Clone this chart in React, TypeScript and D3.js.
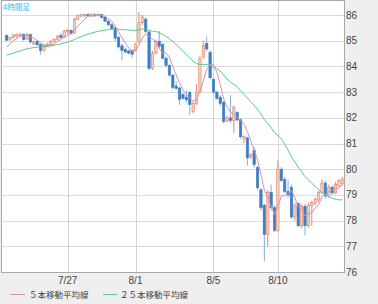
import React from 'react';
import * as d3 from 'd3';

// 4-hour candles (index order, left to right)
const opens = [
  85.20, 85.04, 85.12, 85.18, 85.20, 85.24, 85.06, 85.24, 84.88, 84.98,
  84.85, 84.62, 84.80, 84.86, 84.96, 85.06, 85.20, 85.12, 85.36, 85.40,
  85.30, 85.84, 85.98, 85.98, 86.02, 85.96, 86.00, 85.98, 86.02, 85.92,
  85.76, 85.62, 85.50, 85.12, 84.80, 84.66, 84.60, 84.62, 84.62, 84.96,
  85.70, 85.84, 85.34, 83.92, 84.52, 84.98, 84.86, 84.32, 84.04, 83.66,
  83.24, 83.16, 82.90, 82.80, 82.98, 82.24, 82.56, 83.00, 84.36, 84.90,
  84.55, 83.50, 83.00, 82.80, 82.60, 81.88, 82.00, 81.90, 82.20, 81.92,
  81.20, 81.22, 80.48, 80.72, 80.06, 79.20, 78.60, 77.46, 79.10, 78.50,
  77.62, 80.00, 79.60, 79.14, 79.30, 78.14, 78.66, 77.80, 78.56, 77.80,
  78.58, 78.68, 78.80, 79.10, 79.46, 78.96, 79.30, 79.08, 79.36, 79.44,
];
const highs = [
  85.25, 85.16, 85.26, 85.28, 85.30, 85.28, 85.30, 85.27, 85.00, 85.02,
  84.88, 84.86, 84.92, 85.02, 85.08, 85.22, 85.30, 85.42, 85.46, 85.44,
  85.90, 86.02, 86.06, 86.05, 86.06, 86.06, 86.08, 86.06, 86.04, 85.98,
  85.80, 85.68, 85.54, 85.20, 84.90, 84.74, 84.66, 84.66, 84.92, 86.12,
  86.00, 85.90, 85.40, 84.60, 85.04, 85.38, 84.92, 84.40, 84.10, 83.70,
  83.42, 83.20, 82.98, 83.06, 83.04, 82.62, 83.30, 84.40, 85.00, 85.16,
  84.62, 83.56, 83.06, 82.88, 82.66, 82.08, 82.88, 82.48, 82.26, 81.98,
  81.32, 81.26, 80.62, 80.86, 80.12, 79.26, 78.66, 79.20, 79.40, 78.60,
  80.34, 80.08, 79.70, 79.60, 79.40, 78.70, 78.72, 78.66, 78.64, 78.70,
  78.76, 78.90, 79.16, 79.60, 79.56, 79.40, 79.36, 79.50, 79.62, 79.70,
];
const lows = [
  84.98, 85.00, 85.08, 85.12, 85.14, 85.00, 85.02, 84.90, 84.82, 84.80,
  84.46, 84.58, 84.76, 84.82, 84.92, 85.02, 85.08, 85.10, 85.28, 85.24,
  85.26, 85.80, 85.92, 85.90, 85.92, 85.92, 85.94, 85.94, 85.86, 85.72,
  85.58, 85.42, 84.98, 84.70, 84.24, 84.50, 84.46, 84.34, 84.58, 84.90,
  85.62, 85.30, 83.86, 83.86, 84.48, 84.70, 84.28, 83.96, 83.60, 83.10,
  83.10, 82.50, 82.70, 82.58, 82.10, 82.16, 82.50, 82.96, 84.30, 84.60,
  83.50, 82.94, 82.70, 82.46, 81.78, 81.82, 81.80, 81.42, 81.86, 81.18,
  81.02, 80.14, 80.40, 80.06, 79.20, 78.40, 76.42, 77.00, 78.40, 77.56,
  77.56, 79.50, 79.06, 78.90, 78.06, 78.00, 77.74, 77.70, 77.42, 77.72,
  77.80, 78.60, 78.72, 79.04, 78.86, 78.90, 79.00, 79.04, 79.30, 79.38,
];
const closes = [
  85.02, 85.12, 85.22, 85.24, 85.25, 85.05, 85.26, 84.95, 84.96, 84.84,
  84.62, 84.82, 84.86, 84.98, 85.06, 85.18, 85.12, 85.38, 85.40, 85.28,
  85.84, 85.98, 86.00, 86.02, 85.96, 86.02, 85.98, 86.03, 85.90, 85.76,
  85.62, 85.48, 85.10, 84.76, 84.62, 84.56, 84.52, 84.48, 84.88, 85.70,
  85.92, 85.36, 83.92, 84.52, 84.98, 84.78, 84.32, 84.04, 83.66, 83.18,
  83.14, 82.72, 82.76, 82.70, 82.52, 82.56, 83.00, 84.30, 84.82, 84.68,
  83.56, 83.00, 82.76, 82.56, 81.86, 82.00, 81.90, 82.40, 81.92, 81.26,
  81.28, 80.44, 80.58, 80.18, 79.28, 78.50, 77.46, 79.10, 78.50, 77.62,
  80.00, 79.56, 79.14, 79.00, 78.14, 78.60, 77.80, 78.56, 77.80, 78.60,
  78.70, 78.82, 79.10, 79.46, 78.96, 79.30, 79.08, 79.40, 79.56, 79.62,
];
// closes of the 24 candles before the visible window (needed for the averages)
const priorCloses = [
  84.10, 84.25, 84.05, 84.30, 84.20, 84.15, 84.29, 84.40, 84.55, 84.35,
  84.50, 84.62, 84.45, 84.38, 84.52, 84.60, 84.48, 84.37, 84.30, 84.39,
  84.50, 84.62, 84.78, 84.83,
];

const yTicks = [76, 77, 78, 79, 80, 81, 82, 83, 84, 85, 86];
const xTickLabels = ['7/27', '8/1', '8/5', '8/10'];
const xTickIndex = [18, 38, 61, 80];
const legendLabels = ['５本移動平均線', '２５本移動平均線'];
const periodLabel = '4時間足';

const W = 378;
const H = 304;
const PL = 2;
const PR = 344;
const PT = 1;
const PB = 272;

const UP_FILL = '#f7cbbd';
const UP_STROKE = '#e5866c';
const DOWN_FILL = '#3d7fc1';
const DOWN_WICK = '#7fb0dc';
const MA5_COLOR = '#d690b4';
const MA25_COLOR = '#55c98e';

function movingAverage(period: number): (number | null)[] {
  const all = priorCloses.concat(closes);
  const off = priorCloses.length;
  return closes.map((_, i) => {
    const j = i + off;
    if (j + 1 < period) return null;
    return d3.mean(all.slice(j - period + 1, j + 1)) as number;
  });
}

export default function App() {
  const idx = d3.range(closes.length);
  const x = d3.scaleBand<number>().domain(idx).range([5, PR]).paddingInner(0);
  const y = d3.scaleLinear().domain([76, 86]).range([PB, 15]);
  const bw = x.bandwidth();
  const cx = (i: number) => (x(i) as number) + bw / 2;
  const bodyW = 2.4;

  const ma5 = movingAverage(5);
  const ma25 = movingAverage(25);
  const line = d3
    .line<number | null>()
    .defined((d) => d != null)
    .x((_, i) => cx(i))
    .y((d) => y(d as number));

  const font = '"Liberation Sans", Arial, sans-serif';
  const jfont = '"Noto Sans CJK JP", "Noto Sans", sans-serif';

  return (
    <div style={{ position: 'fixed', left: 0, top: 0 }}>
      <svg width={W} height={H} style={{ display: 'block' }}>
        <rect x={0} y={0} width={W} height={H} fill="#efefef" />
        <defs>
          <clipPath id="plot">
            <rect x={PL} y={PT} width={PR - PL} height={PB - PT} />
          </clipPath>
        </defs>
        <rect x={PL} y={PT} width={PR - PL} height={PB - PT} fill="#ffffff" />
        {yTicks.map((t) => (
          <line key={'g' + t} x1={PL} x2={PR} y1={Math.round(y(t)) + 0.5} y2={Math.round(y(t)) + 0.5} stroke="#dcdcdc" strokeWidth={1} />
        ))}
        {xTickIndex.map((ti) => (
          <line key={'v' + ti} x1={Math.round(cx(ti)) + 0.5} x2={Math.round(cx(ti)) + 0.5} y1={PT} y2={PB} stroke="#d4d4d4" strokeWidth={1} />
        ))}
        <g clipPath="url(#plot)">
          {idx.map((i) => {
            const o = opens[i];
            const c = closes[i];
            const up = c >= o;
            const top = y(Math.max(o, c));
            const bot = y(Math.min(o, c));
            const h = Math.max(1, bot - top);
            return (
              <g key={i}>
                <line x1={cx(i)} x2={cx(i)} y1={y(highs[i])} y2={y(lows[i])} stroke={up ? UP_STROKE : DOWN_WICK} strokeWidth={1} />
                <rect
                  x={cx(i) - bodyW / 2}
                  y={top}
                  width={bodyW}
                  height={h}
                  fill={up ? UP_FILL : DOWN_FILL}
                  stroke={up ? UP_STROKE : DOWN_FILL}
                  strokeWidth={0.6}
                />
              </g>
            );
          })}
          <path d={line(ma25) || ''} fill="none" stroke={MA25_COLOR} strokeWidth={1} />
          <path d={line(ma5) || ''} fill="none" stroke={MA5_COLOR} strokeWidth={1} />
        </g>
        <rect x={PL - 0.5} y={PT - 0.5} width={PR - PL + 1} height={PB - PT + 1} fill="none" stroke="#a8a8a8" strokeWidth={1} />
        <text x={3} y={10} fontFamily={jfont} fontSize={7.5} fill="#49b0ec">
          {periodLabel}
        </text>
        {yTicks.map((t) => (
          <text key={'l' + t} x={346} y={y(t)} dy="0.35em" fontFamily={font} fontSize={10} fill="#444">
            {t}
          </text>
        ))}
        {xTickIndex.map((ti, k) => (
          <text key={'x' + ti} x={cx(ti)} y={284} textAnchor="middle" fontFamily={font} fontSize={10} fill="#444">
            {xTickLabels[k]}
          </text>
        ))}
        <line x1={10} x2={25} y1={294.5} y2={294.5} stroke={MA5_COLOR} strokeWidth={1} />
        <text x={29} y={297.5} fontFamily={jfont} fontSize={8.5} fill="#444">
          {legendLabels[0]}
        </text>
        <line x1={103} x2={117} y1={294.5} y2={294.5} stroke={MA25_COLOR} strokeWidth={1} />
        <text x={120} y={297.5} fontFamily={jfont} fontSize={8.5} fill="#444">
          {legendLabels[1]}
        </text>
      </svg>
    </div>
  );
}
